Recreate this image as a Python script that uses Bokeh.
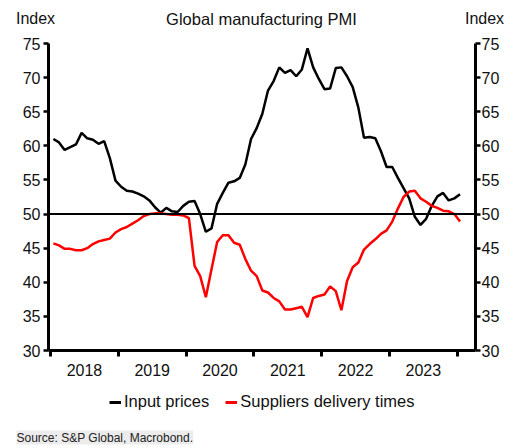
from bokeh.plotting import figure
from bokeh.layouts import column
from bokeh.models import (Range1d, LinearAxis, FixedTicker, Span, Label, Legend, LegendItem)
from bokeh.embed import file_html
from bokeh.resources import INLINE

# ---- data (monthly, Jan 2018 - Jan 2024) ----
start_year = 2018
n_months = 73
input_prices = [
    61.0, 60.5, 59.4, 59.8, 60.2, 61.9, 61.1, 60.9, 60.3, 60.7, 58.2, 54.9,
    54.0, 53.4, 53.3, 53.0, 52.6, 52.0, 51.0, 50.2, 50.9, 50.4, 50.3, 51.2,
    51.8, 51.9, 50.0, 47.4, 47.9, 51.5, 53.1, 54.6, 54.8, 55.3, 57.3, 61.0,
    62.6, 64.7, 68.1, 69.5, 71.5, 70.7, 71.1, 70.2, 71.2, 74.3, 71.5, 69.8,
    68.3, 68.4, 71.4, 71.5, 70.2, 68.6, 65.6, 61.2, 61.3, 61.1, 59.2, 56.9,
    56.9, 55.3, 53.8, 52.3, 49.6, 48.4, 49.3, 51.2, 52.6, 53.1, 52.0, 52.3,
    52.9,
]
delivery_times = [
    45.7, 45.4, 44.9, 44.9, 44.7, 44.7, 45.0, 45.6, 46.0, 46.2, 46.4, 47.3,
    47.8, 48.1, 48.6, 49.1, 49.7, 50.0, 50.1, 50.1, 50.0, 49.9, 49.9, 49.8,
    49.4, 42.4, 40.9, 37.8, 41.9, 45.9, 46.9, 46.9, 45.8, 45.5, 43.4, 41.7,
    40.9, 38.8, 38.5, 37.7, 37.2, 36.0, 36.0, 36.2, 36.4, 34.9, 37.7, 38.0,
    38.2, 39.4, 38.7, 35.9, 40.2, 42.2, 42.9, 44.8, 45.6, 46.3, 47.1, 47.6,
    48.9, 50.8, 52.5, 53.3, 53.4, 52.3, 51.8, 51.2, 50.9, 50.5, 50.4, 50.0,
    48.9,
]
years = [2018, 2019, 2020, 2021, 2022, 2023]
y_ticks = [30, 35, 40, 45, 50, 55, 60, 65, 70, 75]
series_names = ["Input prices", "Suppliers delivery times"]
series_colors = ["#000000", "#ff0000"]
title_text = "Global manufacturing PMI"
axis_unit = "Index"
source_text = "Source: S&P Global, Macrobond."

x = [start_year + (i + 0.5) / 12 for i in range(n_months)]
series_values = [input_prices, delivery_times]

FONT = "Liberation Sans"
TXT = "#111111"
W = 520


def bare(height):
    f = figure(width=W, height=height, output_backend="svg", toolbar_location=None,
               x_range=Range1d(0, W), y_range=Range1d(height, 0),
               min_border=0, min_border_left=0, min_border_right=0,
               min_border_top=0, min_border_bottom=0,
               outline_line_color=None, frame_align=False,
               x_axis_type=None, y_axis_type=None)
    f.xgrid.visible = False
    f.ygrid.visible = False
    f.background_fill_color = "white"
    f.border_fill_color = "white"
    return f


# ---- header ----
head = bare(33)
for tx, txt, fs in ((35, axis_unit, "16px"), (261, title_text, "16.5px"),
                    (484, axis_unit, "16px")):
    head.add_layout(Label(x=tx, y=18, text=txt, text_font=FONT,
                          text_font_size=fs, text_align="center",
                          text_baseline="middle", text_color=TXT))

# ---- main chart ----
p = figure(width=W, height=353, output_backend="svg", toolbar_location=None,
           x_range=Range1d(2017.970, 2024.270), y_range=Range1d(30, 75),
           min_border_left=48, min_border_right=45, min_border_top=10,
           min_border_bottom=36, outline_line_color=None, frame_align=False,
           x_axis_type=None, y_axis_type=None)
p.background_fill_color = "white"
p.border_fill_color = "white"

xt = FixedTicker(ticks=[y + 0.5 for y in years],
                 minor_ticks=[y for y in years] + [years[-1] + 1])
xaxis = LinearAxis(ticker=xt)
xaxis.major_label_overrides = {y + 0.5: str(y) for y in years}
xaxis.major_tick_out = 0
xaxis.major_tick_in = 0
xaxis.minor_tick_out = 6
xaxis.minor_tick_in = 0
xaxis.minor_tick_line_width = 3
xaxis.minor_tick_line_color = "black"
xaxis.axis_line_width = 3
xaxis.axis_line_color = "black"
xaxis.major_label_text_font = FONT
xaxis.major_label_text_font_size = "16px"
xaxis.major_label_text_color = TXT
xaxis.major_label_standoff = 7
p.add_layout(xaxis, "below")

for side in ("left", "right"):
    ax = LinearAxis(ticker=FixedTicker(ticks=y_ticks))
    ax.major_tick_out = 5
    ax.major_tick_in = 0
    ax.major_tick_line_width = 2.5
    ax.minor_tick_out = 0
    ax.minor_tick_in = 0
    ax.axis_line_width = 3
    ax.axis_line_color = "black"
    ax.major_label_text_font = FONT
    ax.major_label_text_font_size = "16px"
    ax.major_label_text_color = TXT
    ax.major_label_standoff = 3 if side == "left" else 1
    p.add_layout(ax, side)

p.ygrid.ticker = FixedTicker(ticks=y_ticks)
p.ygrid.grid_line_color = "#cccccc"
p.ygrid.grid_line_width = 2
p.xgrid.visible = False

p.add_layout(Span(location=50, dimension="width", line_color="black", line_width=2))

for vals, col in zip(series_values, series_colors):
    p.line(x, vals, line_color=col, line_width=2.5)

# ---- footer: legend + source ----
# legend proxies: the same series, lying outside this strip's visible range
foot = bare(62)
items = []
for name, vals, col in zip(series_names, series_values, series_colors):
    r = foot.line(x, vals, line_color=col, line_width=3)
    items.append(LegendItem(label=name, renderers=[r]))
legend = Legend(items=items, orientation="horizontal", location=(109, 37),
                glyph_width=12, glyph_height=16, label_standoff=3, spacing=16,
                label_text_font=FONT, label_text_font_size="16.5px",
                label_text_color=TXT, border_line_color=None,
                background_fill_alpha=0, margin=0, padding=2)
foot.add_layout(legend, "center")
foot.add_layout(Label(x=16, y=51, text=source_text, text_font=FONT,
                      text_font_size="12px", text_align="left",
                      text_baseline="middle", text_color="#222222",
                      background_fill_color="#ececec"))

layout = column(head, p, foot, spacing=0)
open("out.html", "w").write(file_html(layout, INLINE))
